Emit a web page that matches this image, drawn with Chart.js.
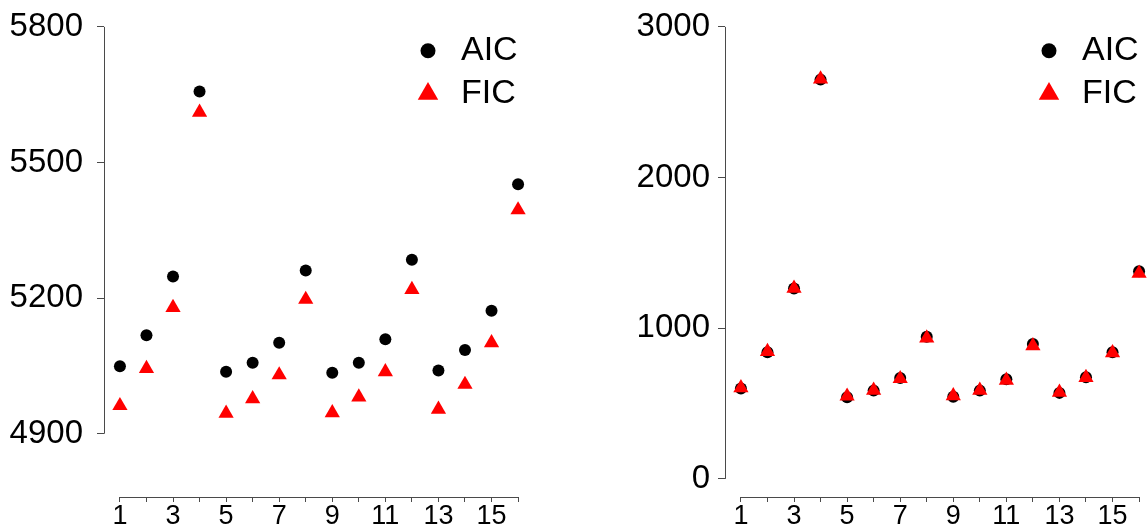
<!DOCTYPE html>
<html>
<head>
<meta charset="utf-8">
<script src="https://cdn.jsdelivr.net/npm/chart.js"></script>
<style>
    html, body { margin: 0; padding: 0; background: #fff; overflow: hidden; }
    body { width: 1148px; height: 531px; position: relative; }
    canvas { position: absolute; top: 0; }
</style>
</head>
<body>
<canvas id="leftChart" width="560" height="531" style="left:0;width:560px;height:531px"></canvas>
<canvas id="rightChart" width="560" height="531" style="left:621px;width:560px;height:531px"></canvas>
<script>
// model index on the x axis
const models = [1, 2, 3, 4, 5, 6, 7, 8, 9, 10, 11, 12, 13, 14, 15, 16];
const xTicks = [1, 2, 3, 4, 5, 6, 7, 8, 9, 10, 11, 12, 13, 14, 15, 16];
const seriesNames = ['AIC', 'FIC'];

// left panel
const aicLeft = [5049, 5118, 5248, 5657, 5037, 5057, 5101, 5261, 5035, 5057, 5109, 5285, 5040, 5085, 5172, 5452];
const ficLeft = [4962, 5044, 5179, 5611, 4945, 4977, 5030, 5197, 4946, 4981, 5037, 5219, 4954, 5009, 5101, 5395];
const leftYTicks = [4900, 5200, 5500, 5800];

// right panel
const aicRight = [600, 841, 1263, 2650, 542, 586, 670, 943, 545, 586, 661, 895, 571, 674, 841, 1378];
const ficRight = [604, 845, 1265, 2653, 549, 588, 665, 935, 551, 588, 654, 883, 575, 672, 837, 1364];
const rightYTicks = [0, 1000, 2000, 3000];

const FONT = 'Liberation Sans, Arial, Helvetica, sans-serif';
const AXIS_COLOR = '#4a4a4a';

function toPoints(values) {
    return models.map((m, i) => ({ x: m, y: values[i] }));
}

// R-style axes: line only spans the first to last tick
function rAxesPlugin(yTicks) {
    return {
        id: 'rAxes',
        afterDraw(chart) {
            const { ctx, chartArea, scales } = chart;
            ctx.save();
            ctx.strokeStyle = AXIS_COLOR;
            ctx.lineWidth = 1;
            ctx.beginPath();
            const xl = Math.round(chartArea.left) + 0.5;
            ctx.moveTo(xl, scales.y.getPixelForValue(yTicks[0]));
            ctx.lineTo(xl, scales.y.getPixelForValue(yTicks[yTicks.length - 1]));
            const yb = Math.round(chartArea.bottom) + 0.5;
            ctx.moveTo(scales.x.getPixelForValue(xTicks[0]), yb);
            ctx.lineTo(scales.x.getPixelForValue(xTicks[xTicks.length - 1]), yb);
            ctx.stroke();
            ctx.restore();
        }
    };
}

// legend in the top right corner of the plot region
const cornerLegend = {
    id: 'cornerLegend',
    afterDraw(chart) {
        const { ctx, chartArea } = chart;
        const px = chartArea.left + 324;
        const tx = chartArea.left + 357;
        const rows = [chartArea.top + 42, chartArea.top + 85];
        ctx.save();
        // circle
        ctx.fillStyle = '#000';
        ctx.beginPath();
        ctx.arc(px, rows[0], 7.5, 0, Math.PI * 2);
        ctx.fill();
        // triangle
        const r = 11.8;
        ctx.fillStyle = '#ff0000';
        ctx.beginPath();
        ctx.moveTo(px, rows[1] - r);
        ctx.lineTo(px + r * Math.sqrt(3) / 2, rows[1] + r / 2);
        ctx.lineTo(px - r * Math.sqrt(3) / 2, rows[1] + r / 2);
        ctx.closePath();
        ctx.fill();
        ctx.fillStyle = '#000';
        ctx.font = '34px ' + FONT;
        ctx.textAlign = 'left';
        ctx.textBaseline = 'middle';
        ctx.fillText(seriesNames[0], tx, rows[0]);
        ctx.fillText(seriesNames[1], tx, rows[1]);
        ctx.restore();
    }
};

function makeChart(id, aic, fic, yMin, yMax, yTicks, labelPad) {
    const ctx = document.getElementById(id).getContext('2d');
    return new Chart(ctx, {
        type: 'scatter',
        data: {
            datasets: [
                {
                    label: seriesNames[0],
                    data: toPoints(aic),
                    pointStyle: 'circle',
                    pointRadius: 6,
                    backgroundColor: '#000',
                    borderWidth: 0,
                    order: 2
                },
                {
                    label: seriesNames[1],
                    data: toPoints(fic),
                    pointStyle: 'triangle',
                    pointRadius: 8.8,
                    backgroundColor: '#ff0000',
                    borderWidth: 0,
                    order: 1
                }
            ]
        },
        options: {
            responsive: false,
            animation: false,
            layout: { padding: { left: 0, right: 26, top: 5, bottom: 0 } },
            plugins: { legend: { display: false }, tooltip: { enabled: false } },
            scales: {
                x: {
                    type: 'linear',
                    min: 0.4,
                    max: 16.6,
                    afterBuildTicks: (scale) => { scale.ticks = xTicks.map(v => ({ value: v })); },
                    afterFit: (scale) => { scale.height = 34; scale.paddingLeft = 0; scale.paddingRight = 0; },
                    border: { display: false },
                    grid: { drawOnChartArea: false, drawTicks: true, tickLength: 5, color: AXIS_COLOR },
                    ticks: {
                        autoSkip: false,
                        maxRotation: 0,
                        padding: 0,
                        color: '#000',
                        font: { family: FONT, size: 27, lineHeight: 1.05 },
                        callback: (v) => (v % 2 === 1 ? String(v) : '')
                    }
                },
                y: {
                    type: 'linear',
                    min: yMin,
                    max: yMax,
                    afterBuildTicks: (scale) => { scale.ticks = yTicks.map(v => ({ value: v })); },
                    afterFit: (scale) => { scale.width = 104; scale.paddingTop = 0; scale.paddingBottom = 0; },
                    border: { display: false },
                    grid: { drawOnChartArea: false, drawTicks: true, tickLength: 7, color: AXIS_COLOR },
                    ticks: {
                        padding: labelPad,
                        color: '#000',
                        font: { family: FONT, size: 33 },
                        callback: (v) => String(v)
                    }
                }
            }
        },
        plugins: [rAxesPlugin(yTicks), cornerLegend]
    });
}

makeChart('leftChart', aicLeft, ficLeft, 4760, 5840, leftYTicks, 14);
makeChart('rightChart', aicRight, ficRight, -120, 3120, rightYTicks, 8);
</script>
</body>
</html>
